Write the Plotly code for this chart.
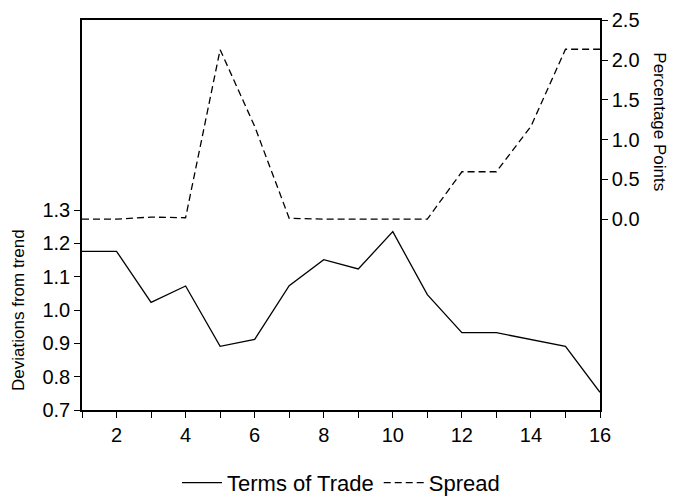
import plotly.graph_objects as go

periods = list(range(1, 17))
terms_of_trade = [1.176, 1.176, 1.023, 1.072, 0.891, 0.912, 1.073, 1.151,
                  1.123, 1.235, 1.046, 0.932, 0.932, 0.911, 0.891, 0.753]
spread = [0.0, 0.0, 0.025, 0.017, 2.13, 1.166, 0.01, 0.0,
          0.0, 0.0, 0.0, 0.595, 0.595, 1.166, 2.135, 2.135]

left_ticks = [0.7, 0.8, 0.9, 1.0, 1.1, 1.2, 1.3]
right_ticks = [0.0, 0.5, 1.0, 1.5, 2.0, 2.5]
x_ticktext = [str(p) if p % 2 == 0 else "" for p in periods]

FONT = "Liberation Sans, Arial, sans-serif"

fig = go.Figure()
fig.add_trace(go.Scatter(x=periods, y=terms_of_trade, mode="lines",
                         name="Terms of Trade",
                         line=dict(color="black", width=1.3)))
fig.add_trace(go.Scatter(x=periods, y=spread, mode="lines", name="Spread",
                         yaxis="y2",
                         line=dict(color="black", width=1.3, dash="7px,4px")))

fig.update_layout(
    width=678, height=502,
    margin=dict(l=74, r=86, t=12, b=100),
    paper_bgcolor="white", plot_bgcolor="white",
    font=dict(family=FONT, size=20, color="black"),
    showlegend=True,
    legend=dict(orientation="h", x=0.5, xanchor="center",
                yref="container", y=0.096, yanchor="top",
                font=dict(size=22), itemwidth=40,
                bgcolor="rgba(0,0,0,0)"),
    xaxis=dict(range=[1, 16], tickvals=periods, ticktext=x_ticktext,
               ticks="outside", ticklen=6, tickwidth=1, tickcolor="black",
               showline=True, linecolor="black", linewidth=1.5, mirror=True,
               showgrid=False, zeroline=False, automargin=False),
    yaxis=dict(range=[0.7, 1.87], tickvals=left_ticks,
               ticktext=[f"{v:.1f}" for v in left_ticks],
               ticks="outside", ticklen=6, tickwidth=1, tickcolor="black",
               showline=True, linecolor="black", linewidth=1.5,
               showgrid=False, zeroline=False, automargin=False),
    yaxis2=dict(range=[-2.40, 2.503], tickvals=right_ticks,
                ticktext=[f"{v:.1f}" for v in right_ticks],
                overlaying="y", side="right",
                ticks="outside", ticklen=6, tickwidth=1, tickcolor="black",
                showline=True, linecolor="black", linewidth=1.5,
                showgrid=False, zeroline=False, automargin=False),
    annotations=[
        dict(text="Deviations from trend", xref="paper", yref="paper",
             x=-0.124, y=0.256, textangle=-90, showarrow=False,
             font=dict(size=17), xanchor="center", yanchor="middle"),
        dict(text="Percentage Points", xref="paper", yref="paper",
             x=1.116, y=0.74, textangle=90, showarrow=False,
             font=dict(size=17), xanchor="center", yanchor="middle"),
    ],
)

fig.write_html("out.html")
